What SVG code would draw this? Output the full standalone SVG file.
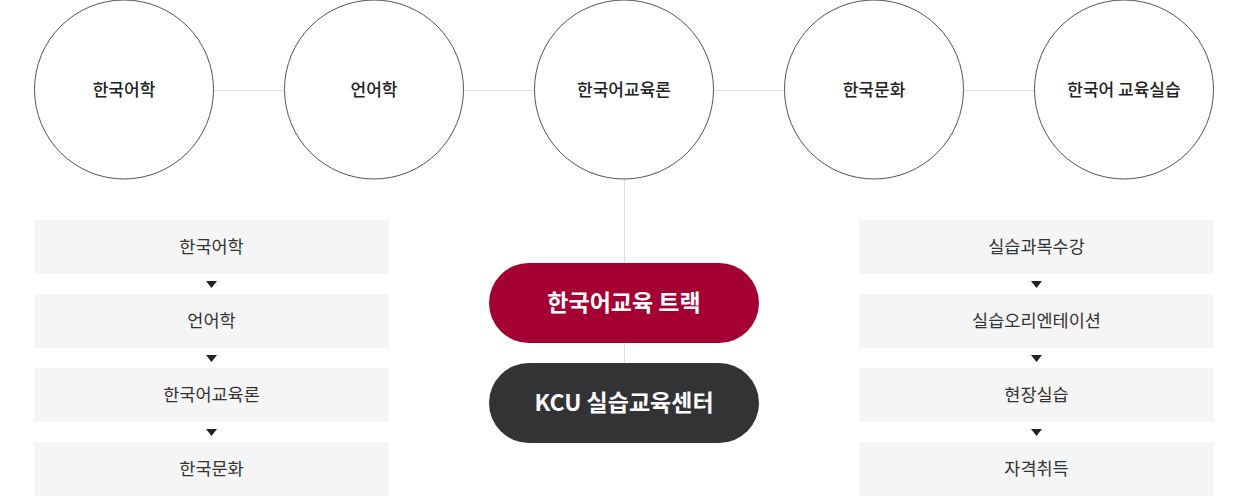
<svg xmlns="http://www.w3.org/2000/svg" width="1250" height="496" viewBox="0 0 1250 496">
<style>
.c{fill:#fff;stroke:#555;stroke-width:1}
.ct{font-family:"Noto Sans CJK KR","Noto Sans",sans-serif;font-size:17px;font-weight:500;fill:#222;text-anchor:middle}
.b{fill:#f5f5f5}
.bt{font-family:"Noto Sans CJK KR","Noto Sans",sans-serif;font-size:17.5px;font-weight:400;fill:#333;text-anchor:middle}
.pt{font-family:"Noto Sans CJK KR","Noto Sans",sans-serif;font-size:23px;font-weight:700;fill:#fff;text-anchor:middle}
.ln{stroke:#ddd;stroke-width:1;fill:none}
.ar{fill:#222}
</style>
<g id="connectors">
<line class="ln" x1="213" y1="90.5" x2="1035" y2="90.5"/>
<line class="ln" x1="624.5" y1="179" x2="624.5" y2="363"/>
<polygon class="ar" points="206,281 217,281 211.5,288"/>
<polygon class="ar" points="206,355 217,355 211.5,362"/>
<polygon class="ar" points="206,429 217,429 211.5,436"/>
<polygon class="ar" points="1031,281 1042,281 1036.5,288"/>
<polygon class="ar" points="1031,355 1042,355 1036.5,362"/>
<polygon class="ar" points="1031,429 1042,429 1036.5,436"/>
</g>
<g id="c1"><circle class="c" cx="124" cy="89.5" r="89.5"/><text class="ct" x="124" y="95.5">한국어학</text></g>
<g id="c2"><circle class="c" cx="374" cy="89.5" r="89.5"/><text class="ct" x="374" y="95.5">언어학</text></g>
<g id="c3"><circle class="c" cx="624" cy="89.5" r="89.5"/><text class="ct" x="624" y="95.5">한국어교육론</text></g>
<g id="c4"><circle class="c" cx="874" cy="89.5" r="89.5"/><text class="ct" x="874" y="95.5">한국문화</text></g>
<g id="c5"><circle class="c" cx="1124" cy="89.5" r="89.5"/><text class="ct" x="1124" y="95.5">한국어 교육실습</text></g>
<g id="l1"><rect class="b" x="34" y="220" width="355" height="54"/><text class="bt" x="211.5" y="253">한국어학</text></g>
<g id="l2"><rect class="b" x="34" y="294" width="355" height="54"/><text class="bt" x="211.5" y="327">언어학</text></g>
<g id="l3"><rect class="b" x="34" y="368" width="355" height="54"/><text class="bt" x="211.5" y="401">한국어교육론</text></g>
<g id="l4"><rect class="b" x="34" y="442" width="355" height="54"/><text class="bt" x="211.5" y="475">한국문화</text></g>
<g id="r1"><rect class="b" x="859" y="220" width="355" height="54"/><text class="bt" x="1036.5" y="253">실습과목수강</text></g>
<g id="r2"><rect class="b" x="859" y="294" width="355" height="54"/><text class="bt" x="1036.5" y="327">실습오리엔테이션</text></g>
<g id="r3"><rect class="b" x="859" y="368" width="355" height="54"/><text class="bt" x="1036.5" y="401">현장실습</text></g>
<g id="r4"><rect class="b" x="859" y="442" width="355" height="54"/><text class="bt" x="1036.5" y="475">자격취득</text></g>
<g id="p1"><rect x="489" y="263" width="270" height="80" rx="40" fill="#a50034"/><text class="pt" x="624" y="311">한국어교육 트랙</text></g>
<g id="p2"><rect x="489" y="363" width="270" height="80" rx="40" fill="#333336"/><text class="pt" x="624" y="411">KCU 실습교육센터</text></g>
</svg>
